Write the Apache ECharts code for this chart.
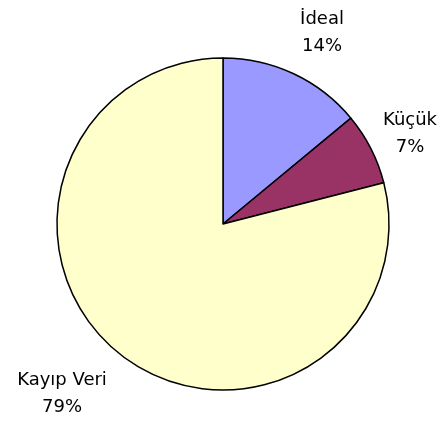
<!DOCTYPE html>
<html><head><meta charset="utf-8">
<script src="https://cdn.jsdelivr.net/npm/echarts@6/dist/echarts.min.js"></script>
<style>html,body{margin:0;padding:0;background:#fff}#c{width:443px;height:423px}</style>
</head><body><div id="c"></div>
<script>
const categories = ['İdeal', 'Küçük', 'Kayıp Veri'];
const values = [14, 7, 79];
const colors = ['#9999FF', '#993366', '#FFFFCC'];
const labelPos = {'İdeal': [322, 33], 'Küçük': [410, 134], 'Kayıp Veri': [62, 394]};

const chart = echarts.init(document.getElementById('c'));
chart.setOption({
  animation: false,
  series: [{
    type: 'pie',
    center: [223, 224],
    radius: 166,
    startAngle: 90,
    clockwise: true,
    data: categories.map((n, i) => ({name: n, value: values[i], itemStyle: {color: colors[i]}})),
    itemStyle: {borderColor: '#000', borderWidth: 1.5},
    label: {
      show: true,
      position: 'inside',
      overflow: 'none',
      formatter: p => p.name + '\n' + Math.round(p.percent) + '%',
      fontFamily: 'DejaVu Sans, sans-serif',
      fontSize: 18,
      lineHeight: 27,
      color: '#000',
      align: 'center'
    },
    labelLine: {show: false},
    labelLayout: function (params) {
      const name = categories[params.dataIndex];
      const p = labelPos[name];
      return {x: p[0], y: p[1], align: 'center', verticalAlign: 'middle'};
    },
    emphasis: {disabled: true}
  }]
});
</script></body></html>
